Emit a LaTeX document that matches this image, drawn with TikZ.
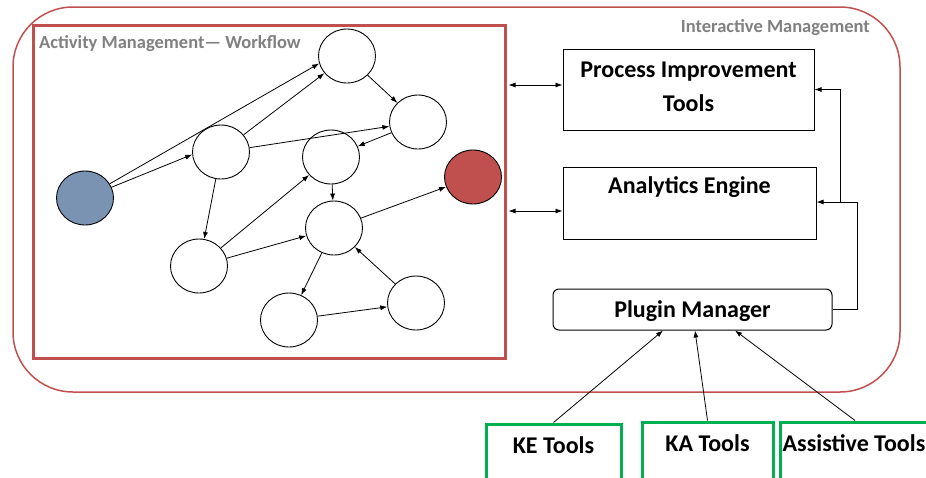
\documentclass[tikz,border=0pt]{standalone}
\usepackage{fontspec}
\setmainfont{Carlito}
\usetikzlibrary{arrows.meta,shapes.geometric}
\definecolor{redline}{HTML}{C0504D}
\definecolor{bluefill}{HTML}{7A93B2}
\definecolor{greenline}{HTML}{00B050}
\definecolor{graytext}{HTML}{808080}
\tikzset{
  wf/.style={ellipse,draw,line width=0.9pt,minimum width=57pt,minimum height=54pt,inner sep=0pt},
  arr/.style={-{Latex[length=7pt,width=5pt]},line width=0.8pt},
  darr/.style={{Latex[length=7pt,width=5pt]}-{Latex[length=7pt,width=5pt]},line width=0.8pt},
  box/.style={draw,line width=1pt,inner sep=0pt},
  boxtext/.style={font=\bfseries\fontsize{24}{34}\selectfont,align=center,inner sep=0pt},
  tool/.style={draw=greenline,line width=3pt,inner sep=0pt},
  lbl/.style={font=\bfseries\fontsize{18.5}{22}\selectfont,text=graytext,inner sep=0pt}
}
\begin{document}
\begin{tikzpicture}[x=1pt,y=-1pt]
\useasboundingbox (0,0) rectangle (926,477);
\clip (0,0) rectangle (926,477);
% containers
\node[draw=redline,line width=1.5pt,rounded corners=60pt,minimum width=887pt,minimum height=385pt,inner sep=0pt] (outer) at (456.5,199.5) {};
\node[draw=redline,line width=3pt,minimum width=472pt,minimum height=333pt,inner sep=0pt] (inner) at (269,191.5) {};
\node[lbl,anchor=west] (wflbl) at (39,44) {Activity Management— Workflow};
\node[lbl,anchor=east] (imlbl) at (870,28) {Interactive Management};
% workflow nodes
\node[wf] (A) at (347,56) {};
\node[wf] (B) at (418,122) {};
\node[wf] (C) at (221,152) {};
\node[wf] (D) at (331,157) {};
\node[wf,fill=bluefill] (S) at (85,198) {};
\node[wf,fill=redline] (T) at (473,177) {};
\node[wf] (E) at (334,228) {};
\node[wf] (F) at (199,266) {};
\node[wf] (G) at (289,320) {};
\node[wf] (H) at (416,303) {};
% workflow edges
\draw[arr] (S) -- (A.195);
\draw[arr] (S) -- (C.185);
\draw[arr] (C) -- (A);
\draw[arr] (C) -- (B);
\draw[arr] (A) -- (B);
\draw[arr] (B) -- (D);
\draw[arr] (C) -- (F);
\draw[arr] (F) -- (D);
\draw[arr] (F) -- (E);
\draw[arr] (D) -- (E);
\draw[arr] (E) -- (T);
\draw[arr] (E) -- (G);
\draw[arr] (G) -- (H);
\draw[arr] (H) -- (E);
% right boxes
\node[box,minimum width=251pt,minimum height=81pt] (pit) at (688.5,89.5) {};
\node[boxtext] (pitt) at (688.5,87) {Process Improvement\\Tools};
\node[box,minimum width=253pt,minimum height=72pt] (ae) at (689.5,203) {};
\node[boxtext] (aet) at (689.5,187) {Analytics Engine};
\node[box,rounded corners=6pt,minimum width=279pt,minimum height=41pt] (pm) at (692.5,309.5) {};
\node[boxtext] (pmt) at (692.5,311) {Plugin Manager};
% double arrows
\draw[darr] ([xshift=2pt]inner.east |- 0,85) -- (pit.west |- 0,85);
\draw[darr] ([xshift=2pt]inner.east |- 0,211) -- (ae.west |- 0,211);
% feedback
\coordinate (fb1) at (857,202);
\coordinate (fb2) at (840,202);
\draw[line width=0.8pt] (pm.east) -| (fb1);
\draw[arr] (fb1) -- (ae.east |- fb1);
\draw[arr] (fb2) |- (pit.east);
% tools
\node[tool,minimum width=135pt,minimum height=76pt] (ke) at (553.5,462) {};
\node[tool,minimum width=131pt,minimum height=78pt] (ka) at (707.5,461) {};
\node[tool,minimum width=180pt,minimum height=78pt] (as) at (870,461) {};
\node[boxtext] (ket) at (553.5,445) {KE Tools};
\node[boxtext] (kat) at (707.5,443) {KA Tools};
\node[boxtext] (ast) at (854,443) {Assistive Tools};
\draw[arr] (ke.north) -- ([xshift=-29.5pt]pm.south);
\draw[arr] (ka.north) -- ([xshift=2.5pt]pm.south);
\draw[arr] ([xshift=-15pt]as.north) -- ([xshift=42.5pt]pm.south);
\end{tikzpicture}
\end{document}
